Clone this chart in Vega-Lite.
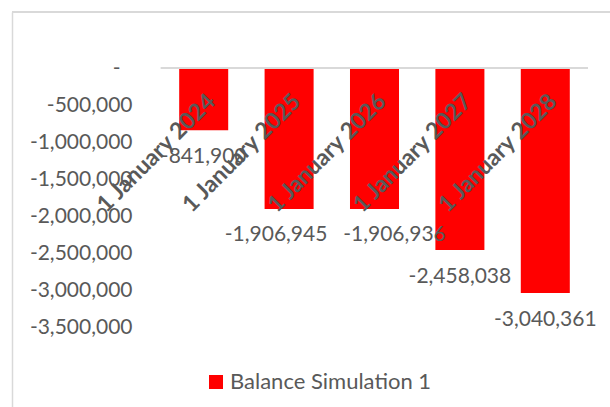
{
  "$schema": "https://vega.github.io/schema/vega-lite/v6.json",
  "width": 598,
  "height": 395,
  "autosize": {"type": "none"},
  "padding": {"left": 12, "top": 12, "right": 0, "bottom": 0},
  "config": {
    "locale": {
      "number": {"decimal": ".", "thousands": ",", "grouping": [3], "currency": ["$", ""], "minus": "-"}
    },
    "view": {"stroke": null},
    "font": "Lato"
  },
  "data": {
    "values": [
      {"date": "1 January 2024", "balance": -841900, "series": "Balance Simulation 1"},
      {"date": "1 January 2025", "balance": -1906945, "series": "Balance Simulation 1"},
      {"date": "1 January 2026", "balance": -1906936, "series": "Balance Simulation 1"},
      {"date": "1 January 2027", "balance": -2458038, "series": "Balance Simulation 1"},
      {"date": "1 January 2028", "balance": -3040361, "series": "Balance Simulation 1"}
    ]
  },
  "resolve": {"scale": {"y": "shared"}, "axis": {"y": "independent"}},
  "layer": [
    {
      "mark": {"type": "bar", "color": "#FF0000"},
      "encoding": {
        "x": {
          "field": "date",
          "type": "nominal",
          "sort": null,
          "scale": {"range": [149, 576], "paddingInner": 0.426, "paddingOuter": 0.213},
          "axis": null
        },
        "y": {
          "field": "balance",
          "type": "quantitative",
          "scale": {"domain": [-4581081, 756757], "nice": false, "zero": false},
          "axis": {
            "orient": "left",
            "title": null,
            "labels": false,
            "ticks": false,
            "grid": false,
            "domainColor": "#D9D9D9",
            "domainWidth": 1.5
          }
        },
        "color": {
          "field": "series",
          "type": "nominal",
          "scale": {"range": ["#FF0000"]},
          "legend": {
            "orient": "none",
            "legendX": 193,
            "legendY": 359,
            "title": null,
            "symbolType": "square",
            "symbolSize": 196,
            "symbolOpacity": 1,
            "symbolStrokeWidth": 0,
            "labelFont": "Lato",
            "labelFontSize": 22,
            "labelColor": "#595959",
            "labelOffset": 3,
            "labelLimit": 0
          }
        }
      }
    },
    {
      "mark": {"type": "rule", "color": "#D9D9D9", "strokeWidth": 1.5},
      "encoding": {
        "y": {"datum": 756757, "type": "quantitative", "axis": null}
      }
    },
    {
      "mark": {"type": "rule", "color": "#D9D9D9", "strokeWidth": 2},
      "encoding": {
        "x": {"datum": "1 January 2024", "type": "nominal", "bandPosition": -0.373, "axis": null},
        "x2": {"datum": "1 January 2028", "bandPosition": 1.369},
        "y": {"datum": 0, "type": "quantitative", "axis": null}
      }
    },
    {
      "transform": [{"filter": "datum.date != '1 January 2025' && datum.date != '1 January 2026'"}],
      "mark": {"type": "text", "dy": 27, "baseline": "middle", "fontSize": 21, "font": "Lato", "color": "#595959"},
      "encoding": {
        "x": {"field": "date", "type": "nominal", "sort": null, "axis": null},
        "y": {
          "field": "balance",
          "type": "quantitative",
          "axis": {
            "orient": "left",
            "offset": -120,
            "title": null,
            "values": [0, -500000, -1000000, -1500000, -2000000, -2500000, -3000000, -3500000],
            "grid": false,
            "domain": false,
            "ticks": false,
            "labelPadding": {"condition": {"test": "datum.value == 0", "value": 12}, "value": 0},
            "labelFont": "Lato",
            "labelFontSize": 21,
            "labelColor": "#595959",
            "labelExpr": "datum.value == 0 ? '-' : format(datum.value, ',')"
          }
        },
        "text": {"field": "balance", "type": "quantitative", "format": ","}
      }
    },
    {
      "transform": [{"filter": "datum.date == '1 January 2025'"}],
      "mark": {"type": "text", "dx": -13, "dy": 26, "baseline": "middle", "fontSize": 21, "font": "Lato", "color": "#595959"},
      "encoding": {
        "x": {"field": "date", "type": "nominal", "sort": null, "axis": null},
        "y": {"field": "balance", "type": "quantitative", "axis": null},
        "text": {"field": "balance", "type": "quantitative", "format": ","}
      }
    },
    {
      "transform": [{"filter": "datum.date == '1 January 2026'"}],
      "mark": {"type": "text", "dx": 20, "dy": 26, "baseline": "middle", "fontSize": 21, "font": "Lato", "color": "#595959"},
      "encoding": {
        "x": {"field": "date", "type": "nominal", "sort": null, "axis": null},
        "y": {"field": "balance", "type": "quantitative", "axis": null},
        "text": {"field": "balance", "type": "quantitative", "format": ","}
      }
    },
    {
      "mark": {
        "type": "text",
        "angle": 315,
        "align": "right",
        "baseline": "middle",
        "dx": -15.6,
        "dy": 26.9,
        "fontSize": 23,
        "fontWeight": "bold",
        "font": "Lato",
        "color": "#595959"
      },
      "encoding": {
        "x": {"field": "date", "type": "nominal", "sort": null, "axis": null},
        "y": {"datum": 0, "type": "quantitative", "axis": null},
        "text": {"field": "date", "type": "nominal"}
      }
    }
  ]
}
